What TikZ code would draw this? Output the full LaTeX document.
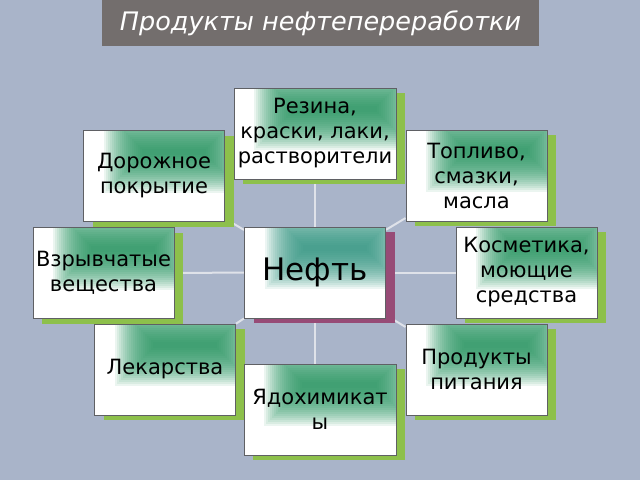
\documentclass[tikz,border=0pt]{standalone}
\usepackage{fontspec}
\setmainfont{DejaVu Sans}
\usetikzlibrary{calc,shadows,backgrounds}

\definecolor{slidebg}{HTML}{A9B4C9}
\definecolor{titlegray}{HTML}{736E6D}
\definecolor{leafgreen}{HTML}{8DC04B}
\definecolor{oilpurple}{HTML}{974B76}
\definecolor{glowgreen}{HTML}{24955F}
\definecolor{glowteal}{HTML}{2F9480}
\definecolor{linkgray}{HTML}{DFE2E9}
\definecolor{boxline}{HTML}{5F6064}

\tikzset{
  glowbox/.style={path picture={
      \begin{scope}
        \clip ([xshift=17pt]path picture bounding box.north west) rectangle ([yshift=26pt]path picture bounding box.south east);
        \foreach \i in {0,...,19}
          \fill[#1, opacity=0.09]
            ([xshift={(20+2*\i)*1pt}, yshift={(20-2*\i)*1pt}]path picture bounding box.north west) rectangle
            ([xshift={(19-2*\i)*1pt}, yshift={(2*\i-62)*1pt}]path picture bounding box.north east);
      \end{scope}}},
  card/.style={draw=boxline, line width=1pt, fill=white, minimum width=141pt, minimum height=91pt, inner sep=2pt, align=center},
  item/.style={card, glowbox=glowgreen, font=\fontsize{21}{25}\selectfont,
    general shadow={fill=leafgreen, shadow xshift=9pt, shadow yshift=-5pt}},
  core/.style={card, glowbox=glowteal, font=\fontsize{31}{36}\selectfont,
    general shadow={fill=oilpurple, shadow xshift=9pt, shadow yshift=-5pt}},
  titlebar/.style={fill=titlegray, text=white, minimum width=437pt, minimum height=46pt, inner sep=0pt, font=\itshape\fontsize{25.5}{30}\selectfont},
  link/.style={draw=linkgray, line width=2pt},
}

\begin{document}
\begin{tikzpicture}[x=1pt, y=-1pt]
  \useasboundingbox (0,0) rectangle (640,480);

  % title
  \node[titlebar] (title) at (320.5,23) {Продукты нефтепереработки};

  % centre and products
  \node[core] (oil) at (315,272.5) {Нефть};
  \node[item, minimum width=162pt] (rez) at (315,133.5) {Резина,\\краски, лаки,\\растворители};
  \node[item] (road) at (154,176) {Дорожное\\покрытие};
  \node[item] (fuel) at (476.5,175.5) {Топливо,\\смазки,\\масла};
  \node[item] (expl) at (103.5,273) {Взрывчатые\\вещества};
  \node[item] (cosm) at (526.5,272.5) {Косметика,\\моющие\\средства};
  \node[item] (med) at (165,369.5) {Лекарства};
  \node[item] (food) at (476.5,369.5) {Продукты\\питания};
  \node[item, minimum width=152pt] (chem) at (320,409.5) {Ядохимикат\\ы};

  % background and links
  \begin{scope}[on background layer]
    \fill[slidebg] (0,0) rectangle (640,480);
    \foreach \leaf in {rez,road,fuel,expl,cosm,med,food}
      \draw[link] (oil) -- (\leaf);
    \draw[link] (oil) -- (oil |- chem.north);
  \end{scope}
\end{tikzpicture}
\end{document}
